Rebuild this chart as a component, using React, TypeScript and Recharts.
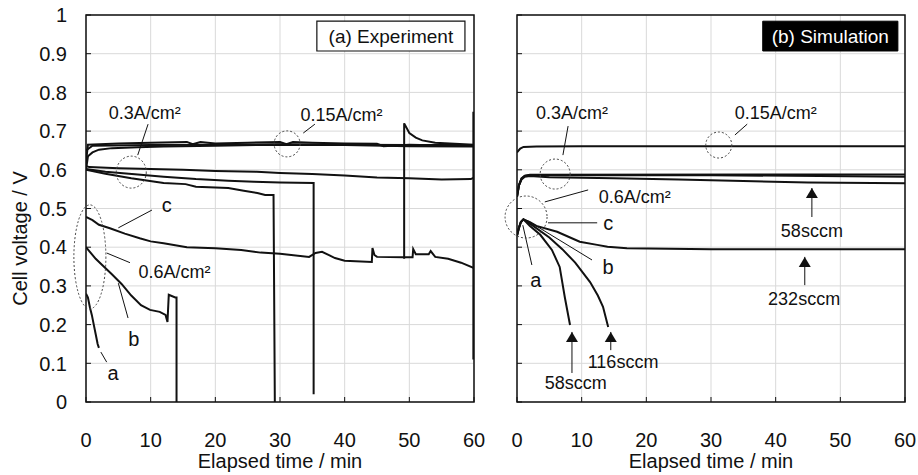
import { LineChart, Line, XAxis, YAxis, CartesianGrid, ReferenceArea, ReferenceLine, ReferenceDot } from 'recharts';

// --- Axis ticks ---
const TIME_TICKS = [0, 10, 20, 30, 40, 50, 60];
const VOLT_TICKS = [0, 0.1, 0.2, 0.3, 0.4, 0.5, 0.6, 0.7, 0.8, 0.9, 1];

// --- (a) Experiment: [time min, voltage V] ---
const EXP_015_TOP = [[0, 0.62], [0.3, 0.665], [5, 0.668], [10, 0.67], [15.6, 0.672], [16.5, 0.666], [17.7, 0.672], [20, 0.668], [25, 0.67], [30, 0.672], [31, 0.666], [32, 0.672], [35, 0.67], [40, 0.668], [45, 0.667], [46, 0.661], [50, 0.665], [55, 0.663], [60, 0.662]];
const EXP_015_LOW = [[0, 0.6], [0.3, 0.635], [1, 0.645], [2, 0.652], [4, 0.656], [8, 0.658], [12, 0.66], [20, 0.662], [30, 0.665], [40, 0.664], [50, 0.661], [60, 0.66]];
const EXP_015_MID = [[0, 0.65], [1, 0.662], [10, 0.664], [20, 0.665], [30, 0.666], [40, 0.665], [50, 0.664], [60, 0.664]];
const EXP_015_SPIKE = [[49.2, 0.37], [49.2, 0.72], [50, 0.695], [51, 0.683], [52, 0.676], [54, 0.67], [57, 0.667], [60, 0.665]];
const EXP_03_TOP = [[0, 0.61], [0.5, 0.607], [5, 0.604], [10, 0.602], [15, 0.6], [20, 0.597], [26.4, 0.595], [30, 0.592], [35, 0.589], [40, 0.585], [45, 0.58], [50, 0.578], [53, 0.576], [55, 0.575], [59.5, 0.576], [60, 0.58]];
const EXP_03_MID = [[0, 0.602], [3, 0.595], [8, 0.588], [12, 0.582], [17, 0.576], [22, 0.572], [26, 0.569], [30, 0.567], [35.2, 0.566], [35.2, 0.02]];
const EXP_03_LOW = [[0, 0.6], [3, 0.59], [7, 0.578], [12, 0.566], [15.4, 0.563], [17, 0.556], [22, 0.553], [24.4, 0.546], [26.5, 0.54], [27.7, 0.535], [29, 0.535], [29.2, 0]];
const EXP_06_A = [[0, 0.28], [0.3, 0.27], [0.6, 0.245], [0.9, 0.225], [1.2, 0.2], [1.5, 0.175], [1.8, 0.15], [2, 0.14]];
const EXP_06_B = [[0, 0.4], [0.5, 0.39], [1.5, 0.37], [2.5, 0.354], [4, 0.33], [5.5, 0.305], [7, 0.275], [8.5, 0.25], [9.9, 0.238], [11.4, 0.233], [12.3, 0.225], [12.6, 0.207], [12.8, 0.277], [13.8, 0.27], [14, 0.27], [14, 0]];
const EXP_06_C = [[0, 0.478], [1, 0.47], [2, 0.458], [3.7, 0.449], [6, 0.435], [8.3, 0.423], [10, 0.415], [12, 0.41], [15.6, 0.4], [20, 0.397], [24, 0.393], [27, 0.386], [30, 0.383], [34.5, 0.375], [35.5, 0.385], [36.5, 0.388], [37.5, 0.38], [38.5, 0.372], [40, 0.365], [44.2, 0.362], [44.3, 0.398], [44.6, 0.38], [45, 0.375], [49, 0.374], [50.5, 0.374], [50.6, 0.395], [51, 0.382], [53, 0.382], [53.3, 0.39], [54, 0.375], [56, 0.37], [58, 0.36], [60, 0.346]];
const EXP_END = [[59.9, 0.75], [59.9, 0.11]];

// --- (b) Simulation ---
const SIM_015 = [[0, 0.645], [0.5, 0.655], [1, 0.659], [3, 0.66], [10, 0.661], [60, 0.661]];
const SIM_03_232 = [[0, 0.53], [0.3, 0.56], [0.7, 0.578], [1.2, 0.585], [2, 0.587], [60, 0.588]];
const SIM_03_116 = [[0, 0.53], [0.3, 0.56], [0.7, 0.577], [1.2, 0.584], [2, 0.586], [30, 0.586], [60, 0.582]];
const SIM_03_58 = [[0, 0.53], [0.3, 0.56], [0.7, 0.575], [1.2, 0.582], [2, 0.584], [5, 0.581], [15, 0.578], [25, 0.575], [35, 0.571], [45, 0.567], [60, 0.565]];
const SIM_06_232 = [[0, 0.43], [0.3, 0.45], [0.6, 0.465], [1, 0.472], [2, 0.465], [3, 0.455], [6.2, 0.44], [9.7, 0.414], [12.4, 0.406], [14, 0.401], [17, 0.397], [30, 0.395], [60, 0.395]];
const SIM_06_116 = [[0, 0.43], [0.3, 0.45], [0.6, 0.465], [1, 0.472], [2.5, 0.455], [5, 0.425], [7, 0.395], [9, 0.36], [11.3, 0.31], [12.5, 0.275], [13.3, 0.246], [14.1, 0.194]];
const SIM_06_58 = [[0, 0.43], [0.3, 0.45], [0.6, 0.465], [1, 0.472], [2, 0.455], [3.6, 0.432], [5.4, 0.393], [6.6, 0.349], [7.4, 0.27], [8.2, 0.199]];

const EXP_SERIES = [EXP_015_TOP, EXP_015_LOW, EXP_015_MID, EXP_015_SPIKE, EXP_03_TOP, EXP_03_MID, EXP_03_LOW, EXP_06_A, EXP_06_B, EXP_06_C, EXP_END];
const SIM_SERIES = [SIM_015, SIM_03_232, SIM_03_116, SIM_03_58, SIM_06_232, SIM_06_116, SIM_06_58];

const toPts = (rows: number[][]) => rows.map(([t, v]) => ({ t, v }));

const INK = '#111';
const FONT = '"Liberation Sans", Arial, sans-serif';

// --- Annotation helpers ---
const leader = (k: string, x1: number, y1: number, x2: number, y2: number) => (
    <ReferenceLine key={k} segment={[{ x: x1, y: y1 }, { x: x2, y: y2 }]} stroke={INK} strokeWidth={1} ifOverflow="visible" />
);

const ring = (k: string, x: number, y: number, rx: number, ry: number) => (
    <ReferenceDot
        key={k} x={x} y={y} r={rx} ifOverflow="visible"
        shape={(p: any) => <ellipse cx={p.cx} cy={p.cy} rx={rx} ry={ry} fill="none" stroke="#444" strokeWidth={1} strokeDasharray="2 2" />}
    />
);

const note = (k: string, x: number, y: number, text: string, size = 18) => (
    <ReferenceDot
        key={k} x={x} y={y} r={1} ifOverflow="visible"
        shape={(p: any) => <text x={p.cx} y={p.cy} dy="0.35em" textAnchor="middle" fontSize={size} fill={INK} fontFamily={FONT}>{text}</text>}
    />
);

const arrowUp = (k: string, x: number, tip: number, tail: number) => [
    leader(k + '-s', x, tail, x, tip),
    <ReferenceDot
        key={k + '-h'} x={x} y={tip} r={1} ifOverflow="visible"
        shape={(p: any) => <polygon points={`${p.cx},${p.cy} ${p.cx - 6},${p.cy + 10} ${p.cx + 6},${p.cy + 10}`} fill={INK} />}
    />,
];

// --- Axis renderers ---
const yTickLabeled = (p: any) => (
    <g>
        <text x={p.x} y={p.y} dy="0.36em" textAnchor="end" fontSize={20} fill={INK} fontFamily={FONT}>{p.payload.value}</text>
        <line x1={p.x + 19} x2={p.x + 24} y1={p.y} y2={p.y} stroke={INK} />
    </g>
);

const yTickBare = (p: any) => <line x1={p.x + 19} x2={p.x + 24} y1={p.y} y2={p.y} stroke={INK} />;

const xTick = (p: any) => (
    <g>
        <text x={p.x} y={p.y} dy="0.71em" textAnchor="middle" fontSize={20} fill={INK} fontFamily={FONT}>{p.payload.value}</text>
        <line x1={p.x} x2={p.x} y1={p.y - 31} y2={p.y - 36} stroke={INK} />
    </g>
);

const yTitle = (p: any) => {
    const vb = p.viewBox;
    const cx = vb.x + 20;
    const cy = vb.y + vb.height / 2 + 30;
    return (
        <text x={cx} y={cy} transform={`rotate(-90 ${cx} ${cy})`} textAnchor="middle" dominantBaseline="central" fontSize={20} fill={INK} fontFamily={FONT}>
            Cell voltage / V
        </text>
    );
};

const xTitle = { value: 'Elapsed time / min', position: 'insideBottom' as const, offset: 7, fontSize: 20, fill: INK, fontFamily: FONT };

function Panel({ width, yWidth, marginRight, labeled, series, children }: any) {
    return (
        <LineChart width={width} height={475} margin={{ top: 15, right: marginRight, bottom: 0, left: 0 }}>
            <CartesianGrid stroke="#d9d9d9" strokeWidth={1} />
            <XAxis
                dataKey="t" type="number" domain={[0, 60]} ticks={TIME_TICKS} height={73}
                axisLine={false} tickLine={false} tickSize={6} tickMargin={25} tick={xTick} label={xTitle}
                allowDataOverflow
            />
            <YAxis
                type="number" domain={[0, 1]} ticks={VOLT_TICKS} width={yWidth}
                axisLine={false} tickLine={false} tickSize={6} tickMargin={13}
                tick={labeled ? yTickLabeled : yTickBare} label={labeled ? yTitle : undefined}
                allowDataOverflow
            />
            {series.map((rows: number[][], i: number) => (
                <Line key={i} data={toPts(rows)} dataKey="v" type="linear" stroke={INK} strokeWidth={2} dot={false} isAnimationActive={false} />
            ))}
            <ReferenceArea x1={0} x2={60} y1={0} y2={1} fill="none" fillOpacity={0} stroke={INK} strokeWidth={1.5} ifOverflow="visible" />
            {children}
        </LineChart>
    );
}

export default function App() {
    return (
        <div style={{ position: 'absolute', left: 0, top: 0, width: 918, height: 475, background: '#fff', fontFamily: FONT }}>
            <div style={{ position: 'absolute', left: 0, top: 0 }}>
                <Panel width={498} yWidth={86} marginRight={24} labeled series={EXP_SERIES}>
                    <ReferenceArea x1={35.7} x2={58.6} y1={0.907} y2={0.984} fill="#fff" fillOpacity={1} stroke={INK} strokeWidth={1.2}
                        label={{ value: '(a) Experiment', position: 'center', fontSize: 19, fill: INK, fontFamily: FONT }} />
                    {note('a03', 9.1, 0.747, '0.3A/cm²')}
                    {leader('a03l', 9.6, 0.718, 8.0, 0.638)}
                    {ring('a03r', 7.0, 0.594, 15, 16)}
                    {note('a015', 39.5, 0.742, '0.15A/cm²')}
                    {leader('a015l', 35.4, 0.718, 33.6, 0.695)}
                    {ring('a015r', 31.1, 0.667, 13, 13)}
                    {note('ac', 12.5, 0.509, 'c', 20)}
                    {leader('acl', 10.2, 0.496, 5.0, 0.45)}
                    {ring('a06r', 0.6, 0.375, 16, 52)}
                    {note('a06', 13.7, 0.336, '0.6A/cm²')}
                    {leader('a06l', 6.8, 0.36, 3.2, 0.385)}
                    {note('ab', 7.4, 0.163, 'b', 20)}
                    {leader('abl', 6.5, 0.217, 5.0, 0.307)}
                    {note('aa', 4.2, 0.075, 'a', 20)}
                    {leader('aal', 3.2, 0.103, 2.3, 0.129)}
                </Panel>
            </div>
            <div style={{ position: 'absolute', left: 480, top: 0 }}>
                <Panel width={438} yWidth={37} marginRight={13} labeled={false} series={SIM_SERIES}>
                    <ReferenceArea x1={38.0} x2={58.9} y1={0.907} y2={0.984} fill="#000" fillOpacity={1} stroke="#000"
                        label={{ value: '(b) Simulation', position: 'center', fontSize: 19, fill: '#fff', fontFamily: FONT }} />
                    {note('b03', 8.5, 0.747, '0.3A/cm²')}
                    {leader('b03l', 7.9, 0.713, 7.1, 0.638)}
                    {ring('b03r', 5.9, 0.589, 15, 15)}
                    {note('b015', 40.0, 0.747, '0.15A/cm²')}
                    {leader('b015l', 35.6, 0.718, 33.7, 0.69)}
                    {ring('b015r', 31.2, 0.664, 13, 13)}
                    {note('b06', 18.2, 0.53, '0.6A/cm²')}
                    {leader('b06l', 11.0, 0.548, 4.3, 0.517)}
                    {ring('b06r', 1.4, 0.478, 21, 21)}
                    {note('bc', 14.1, 0.463, 'c', 20)}
                    {leader('bcl', 12.4, 0.463, 4.8, 0.463)}
                    {note('bb', 14.1, 0.349, 'b', 20)}
                    {leader('bbl', 11.6, 0.367, 1.5, 0.47)}
                    {note('ba', 2.9, 0.315, 'a', 20)}
                    {leader('bal', 2.3, 0.354, 0.9, 0.457)}
                    {arrowUp('s58', 45.6, 0.553, 0.478)}
                    {note('s58t', 45.6, 0.442, '58sccm')}
                    {arrowUp('s232', 44.5, 0.375, 0.302)}
                    {note('s232t', 44.4, 0.266, '232sccm')}
                    {arrowUp('s116', 14.5, 0.181, 0.134)}
                    {note('s116t', 16.4, 0.103, '116sccm')}
                    {arrowUp('sa58', 8.5, 0.181, 0.075)}
                    {note('sa58t', 9.1, 0.049, '58sccm')}
                </Panel>
            </div>
        </div>
    );
}
